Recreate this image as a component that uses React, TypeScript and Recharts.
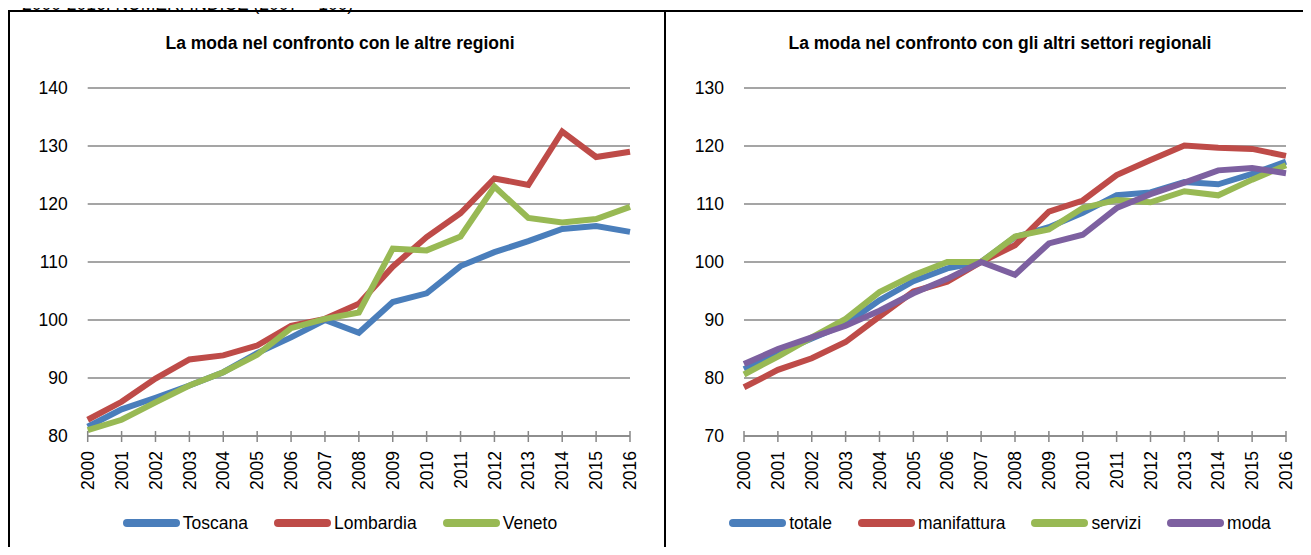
import { CartesianGrid, Line, LineChart, XAxis, YAxis } from "recharts";

const years = [
    "2000", "2001", "2002", "2003", "2004", "2005", "2006", "2007", "2008",
    "2009", "2010", "2011", "2012", "2013", "2014", "2015", "2016",
];

// left panel: regions
const toscana = [81.6, 84.6, 86.6, 88.7, 91.0, 94.3, 97.0, 100.0, 97.8, 103.1, 104.6, 109.3, 111.7, 113.6, 115.7, 116.2, 115.2];
const lombardia = [82.8, 85.9, 89.9, 93.2, 93.9, 95.6, 99.0, 100.2, 102.8, 109.2, 114.3, 118.4, 124.4, 123.3, 132.5, 128.1, 129.0];
const veneto = [81.0, 82.8, 85.8, 88.7, 91.0, 94.0, 98.6, 100.2, 101.3, 112.3, 112.0, 114.4, 123.0, 117.6, 116.8, 117.4, 119.5];

// right panel: sectors
const totale = [81.5, 84.3, 86.8, 89.3, 93.4, 96.7, 98.9, 100.0, 104.3, 106.0, 108.5, 111.5, 112.0, 113.8, 113.4, 115.2, 117.3];
const manifattura = [78.4, 81.4, 83.4, 86.2, 90.6, 94.9, 96.6, 100.0, 102.9, 108.7, 110.6, 115.0, 117.6, 120.1, 119.7, 119.5, 118.3];
const servizi = [80.6, 83.7, 87.0, 90.2, 94.8, 97.7, 100.0, 100.0, 104.4, 105.6, 109.3, 110.7, 110.3, 112.2, 111.5, 114.2, 116.7];
const moda = [82.4, 85.0, 87.0, 89.0, 91.6, 94.6, 97.1, 100.0, 97.8, 103.2, 104.7, 109.3, 111.7, 113.7, 115.8, 116.2, 115.3];

const leftTicks = [80, 90, 100, 110, 120, 130, 140];
const rightTicks = [70, 80, 90, 100, 110, 120, 130];

const BLUE = "#4A7EBB";
const RED = "#BE4B48";
const GREEN = "#98B954";
const PURPLE = "#7D60A0";
const GRID = "#878787";
const FONT = '"Liberation Sans", Arial, sans-serif';

const leftSeries = [
    { key: "Toscana", values: toscana, color: BLUE },
    { key: "Lombardia", values: lombardia, color: RED },
    { key: "Veneto", values: veneto, color: GREEN },
];

const rightSeries = [
    { key: "totale", values: totale, color: BLUE },
    { key: "manifattura", values: manifattura, color: RED },
    { key: "servizi", values: servizi, color: GREEN },
    { key: "moda", values: moda, color: PURPLE },
];

type Series = { key: string; values: number[]; color: string };

function buildRows(series: Series[]) {
    return years.map((year, i) => {
        const row: Record<string, string | number> = { year };
        series.forEach((s) => {
            row[s.key] = s.values[i];
        });
        return row;
    });
}

// excel-style "cross" tick mark plus a label turned 90°
const YearTick = (props: any) => {
    const { x, y, payload } = props;
    return (
        <g>
            <line x1={x} x2={x} y1={y - 5} y2={y + 6} stroke={GRID} strokeWidth={1.5} />
            <text
                transform={`translate(${x},${y + 15}) rotate(-90)`}
                textAnchor="end"
                dy="0.35em"
                fontSize={17.5}
                fontFamily={FONT}
                fill="#000"
            >
                {payload.value}
            </text>
        </g>
    );
};

interface PanelProps {
    left: number;
    width: number;
    plotLeft: number;
    plotRight: number;
    center: number;
    title: string;
    series: Series[];
    domain: [number, number];
    ticks: number[];
}

function Panel({ left, width, plotLeft, plotRight, center, title, series, domain, ticks }: PanelProps) {
    const data = buildRows(series);
    const yAxisWidth = 60;
    const xAxisHeight = 60;
    return (
        <>
            <div
                style={{
                    position: "absolute",
                    left: center - 300,
                    width: 600,
                    top: 33,
                    textAlign: "center",
                    fontFamily: FONT,
                    fontWeight: "bold",
                    fontSize: 17.5,
                    lineHeight: "20px",
                    whiteSpace: "nowrap",
                }}
            >
                {title}
            </div>
            <div style={{ position: "absolute", left, top: 0 }}>
                <LineChart
                    width={width}
                    height={555}
                    data={data}
                    margin={{
                        top: 88,
                        right: left + width - plotRight,
                        left: plotLeft - left - yAxisWidth,
                        bottom: 555 - 436 - xAxisHeight,
                    }}
                >
                    <CartesianGrid vertical={false} stroke={GRID} strokeWidth={1.5} />
                    <XAxis
                        dataKey="year"
                        interval={0}
                        height={xAxisHeight}
                        tickSize={0}
                        tickMargin={0}
                        tickLine={false}
                        axisLine={{ stroke: GRID, strokeWidth: 1.5 }}
                        tick={<YearTick />}
                    />
                    <YAxis
                        width={yAxisWidth}
                        domain={domain}
                        ticks={ticks}
                        interval={0}
                        axisLine={false}
                        tickLine={false}
                        tickSize={0}
                        tickMargin={20}
                        tick={{ fontSize: 17.5, fontFamily: FONT, fill: "#000" }}
                    />
                    {series.map((s) => (
                        <Line
                            key={s.key}
                            dataKey={s.key}
                            type="linear"
                            stroke={s.color}
                            strokeWidth={6}
                            dot={false}
                            activeDot={false}
                            isAnimationActive={false}
                        />
                    ))}
                </LineChart>
            </div>
            <div
                style={{
                    position: "absolute",
                    left: center - 400,
                    width: 800,
                    top: 512,
                    display: "flex",
                    justifyContent: "center",
                    alignItems: "center",
                    gap: 26,
                    fontFamily: FONT,
                    fontSize: 17.5,
                    lineHeight: "22px",
                }}
            >
                {series.map((s) => (
                    <div key={s.key} style={{ display: "flex", alignItems: "center" }}>
                        <span
                            style={{
                                display: "inline-block",
                                width: 57,
                                height: 8,
                                borderRadius: 4,
                                background: s.color,
                                marginRight: 3,
                            }}
                        />
                        <span>{s.key}</span>
                    </div>
                ))}
            </div>
        </>
    );
}

export default function App() {
    return (
        <div
            style={{
                position: "relative",
                width: 1311,
                height: 555,
                margin: -8,
                overflow: "hidden",
                background: "#fff",
                fontFamily: FONT,
            }}
        >
            <div
                style={{
                    position: "absolute",
                    left: 22,
                    top: -6,
                    fontSize: 17.5,
                    lineHeight: "20px",
                    whiteSpace: "nowrap",
                }}
            >
                2000-2016. NUMERI INDICE (2007 = 100)
            </div>
            <div
                style={{
                    position: "absolute",
                    left: 8,
                    top: 10,
                    width: 1300,
                    height: 560,
                    border: "2px solid #000",
                }}
            />
            <div
                style={{
                    position: "absolute",
                    left: 664,
                    top: 10,
                    width: 2,
                    height: 560,
                    background: "#000",
                }}
            />
            <Panel
                left={10}
                width={654}
                plotLeft={87.7}
                plotRight={630}
                center={340}
                title="La moda nel confronto con le altre regioni"
                series={leftSeries}
                domain={[80, 140]}
                ticks={leftTicks}
            />
            <Panel
                left={666}
                width={642}
                plotLeft={744}
                plotRight={1286}
                center={1000}
                title="La moda nel confronto con gli altri settori regionali"
                series={rightSeries}
                domain={[70, 130]}
                ticks={rightTicks}
            />
        </div>
    );
}
